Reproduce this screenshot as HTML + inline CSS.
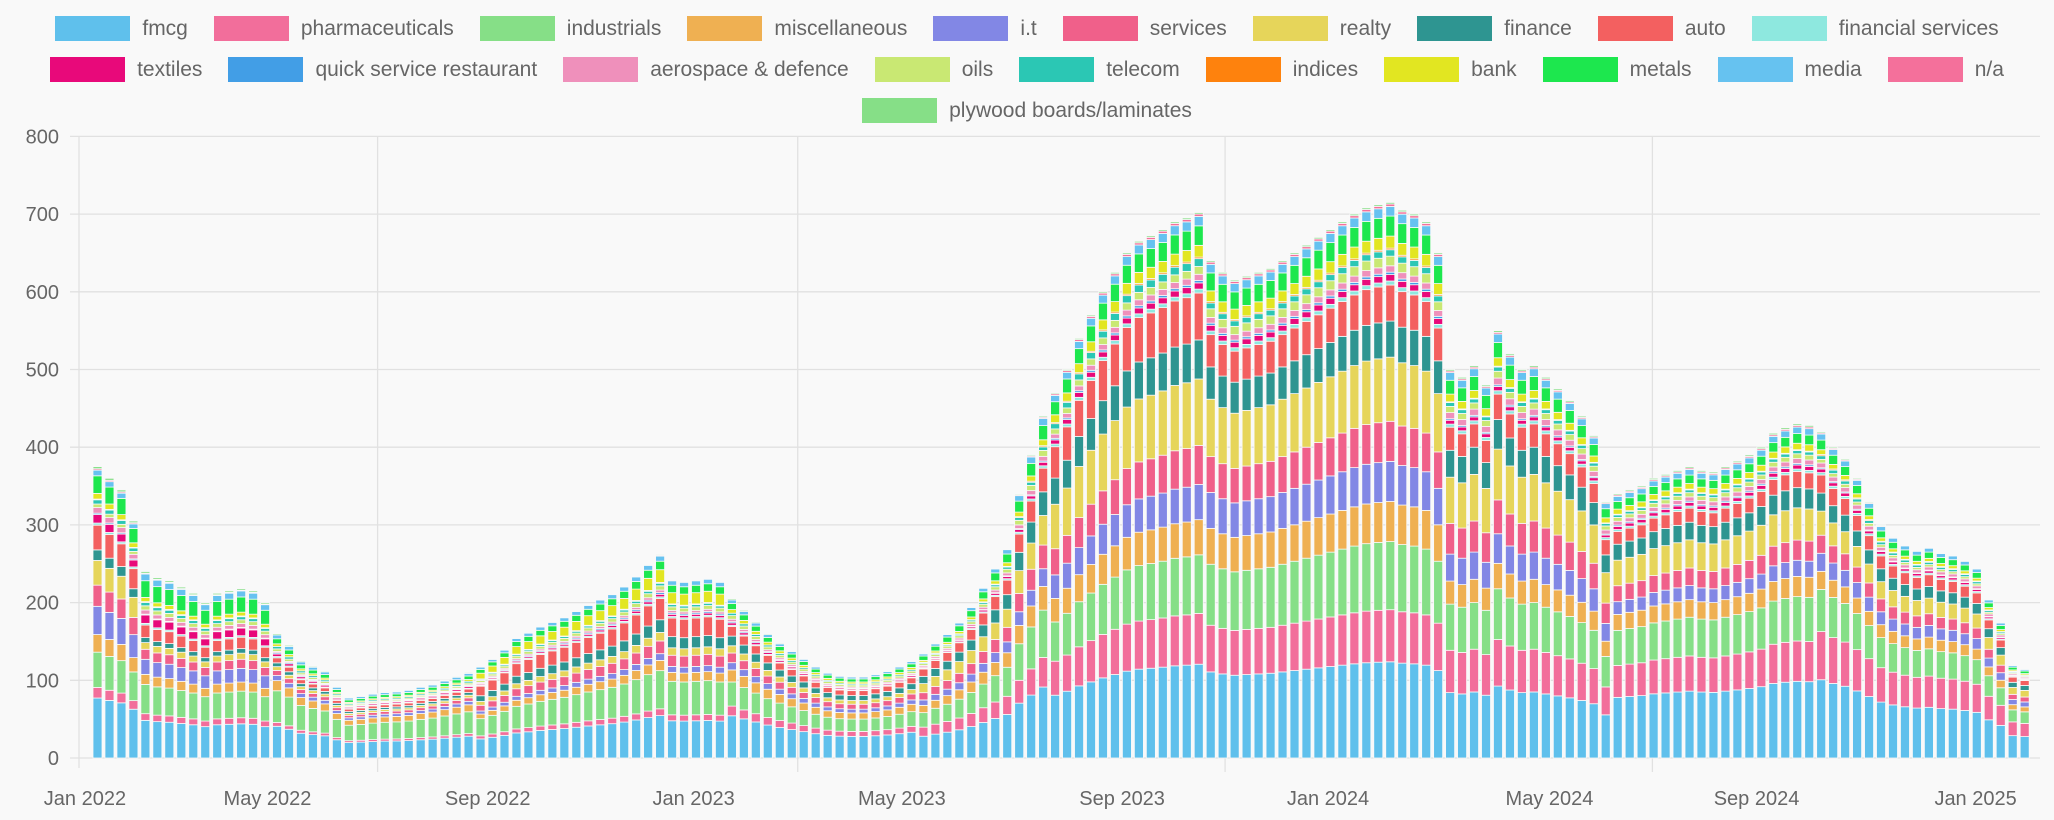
<!DOCTYPE html>
<html><head><meta charset="utf-8">
<style>
html,body{margin:0;padding:0;background:#f9f9f9;}
body{width:2054px;height:820px;overflow:hidden;font-family:"Liberation Sans",sans-serif;}
#legend{position:absolute;left:0;top:8px;width:2054px;}
.row{display:flex;justify-content:center;height:41px;align-items:center;}
.item{display:flex;align-items:center;margin:0 13px;font-size:21px;color:#666;}
.box{width:75px;height:25px;margin-right:12px;box-sizing:border-box;}
svg{position:absolute;left:0;top:0;}
</style></head>
<body>
<div id="legend"></div>
<svg id="chart" width="2054" height="820"></svg>
<script>
const seriesNames=["fmcg","pharmaceuticals","industrials","miscellaneous","i.t","services","realty","finance","auto","financial services","textiles","quick service restaurant","aerospace & defence","oils","telecom","indices","bank","metals","media","n/a","plywood boards/laminates"];
const seriesColors=["#5fc0ec","#f26e9b","#86df87","#efb052","#8287e5","#f0608a","#e6d55a","#2e9591","#f36060","#8ee8df","#e8097a","#429ee6","#ef90bb","#c9e873","#2bc7b4","#fe820d","#e2e621","#1de74e","#66c2f0","#f4709b","#86df87"];
const totals=[375,360,345,305,
240,232,228,220,212,200,212,215,218,215,200,
160,145,125,118,112,92,
78,80,83,85,86,88,92,95,100,105,110,
118,128,140,155,162,170,176,182,190,198,205,212,222,235,250,262,
230,228,230,232,228,
205,190,175,160,148,138,128,118,110,106,
105,105,108,112,118,125,
135,148,160,175,195,220,245,270,340,390,440,
470,500,540,570,600,625,650,665,672,680,690,695,702,
640,625,615,620,625,630,640,650,660,670,680,690,700,708,712,715,705,700,690,650,
500,490,505,480,550,520,500,505,490,475,460,440,415,
330,
340,345,350,360,365,370,375,370,368,375,382,390,400,418,425,430,428,
420,400,385,360,330,300,285,275,268,272,265,262,255,245,
205,175,120,115];
const phaseStarts=[0,4,15,32,53,69,80,93,113,127,144];
const phaseWeights=[
[85,15,50,25,40,30,35,15,35,3,12,2,8,5,6,1,8,25,8,2,3],
[45,8,35,12,18,12,8,6,15,2,10,1,5,5,4,1,5,20,8,1,2],
[25,3,25,8,4,4,3,3,4,1,2,1,1,2,2,0,2,4,3,0,1],
[50,8,45,12,8,15,10,15,25,2,3,2,3,5,3,1,15,10,6,1,1],
[35,8,20,10,6,8,6,8,8,1,2,1,2,3,2,0,3,5,3,0,1],
[60,25,40,20,15,20,25,20,20,2,3,1,4,5,3,1,5,12,6,1,1],
[120,65,75,45,45,50,85,50,60,5,8,3,8,10,10,2,15,25,12,3,2],
[120,65,85,50,50,50,80,45,45,5,8,3,8,12,8,2,15,25,12,3,2],
[85,55,60,30,35,40,60,35,30,4,5,2,8,8,5,1,10,18,10,2,2],
[95,50,55,25,20,25,40,25,20,3,5,2,6,6,4,1,8,12,8,2,2],
[65,40,35,15,15,15,20,15,15,2,3,1,4,3,3,1,4,8,5,1,1]];
const yTicks=[0,100,200,300,400,500,600,700,800];
const xLabels=["Jan 2022","May 2022","Sep 2022","Jan 2023","May 2023","Sep 2023","Jan 2024","May 2024","Sep 2024","Jan 2025"];
const xLabelWeeks=[-1.05,14.2,32.6,49.8,67.2,85.6,102.8,121.3,138.6,156.9];
const gridWeeks=[23.4,58.5,94.2,129.9];

const NS="http://www.w3.org/2000/svg";
const svg=document.getElementById('chart');
const Y0=758,PX=0.777,X0=97.5,DX=11.97,BW=9;
const y=v=>Y0-v*PX;
const x=i=>X0+i*DX;
function mk(t,a){const e=document.createElementNS(NS,t);for(const k in a)e.setAttribute(k,a[k]);svg.appendChild(e);return e;}
yTicks.forEach(t=>{
  const l=mk('line',{x1:70,x2:2040,y1:y(t),y2:y(t),stroke:'#e1e1e1','stroke-width':1.3});
  
  
  const tx=mk('text',{x:59,y:y(t)+7,'text-anchor':'end','font-size':20,fill:'#666','font-family':'Liberation Sans, sans-serif'});
  tx.textContent=t;
  
  
});
const ax=mk('line',{x1:79,x2:79,y1:y(800),y2:Y0+10,stroke:'#e1e1e1','stroke-width':1.3});


gridWeeks.forEach(w=>{
  const g=mk('line',{x1:x(w),x2:x(w),y1:y(800),y2:Y0+14,stroke:'#e1e1e1','stroke-width':1.3});
  
  
});
xLabels.forEach((s,k)=>{
  const tx=mk('text',{x:x(xLabelWeeks[k]),y:805,'text-anchor':'middle','font-size':20,fill:'#666','font-family':'Liberation Sans, sans-serif'});
  tx.textContent=s;
  
  
});
totals.forEach((tot,i)=>{
  let p=0;for(let k=0;k<phaseStarts.length;k++)if(i>=phaseStarts[k])p=k;
  const w=phaseWeights[p];const sum=w.reduce((a,b)=>a+b,0);
  let acc=0;
  w.forEach((wv,s)=>{
    if(!wv)return;
    const v=tot*wv/sum;
    const r=mk('rect',{x:x(i)-BW/2,y:y(acc+v),width:BW,height:Math.max(v*PX,0.5),fill:seriesColors[s],stroke:'#f9f9f9','stroke-width':0.8});
    
    
    acc+=v;
  });
});
const rows=[[0,10],[10,20],[20,21]];
const leg=document.getElementById('legend');
rows.forEach(([a,b])=>{
  const row=document.createElement('div');row.className='row';
  
  
  for(let s=a;s<b;s++){
    const it=document.createElement('div');it.className='item';
    
    
    const bx=document.createElement('span');bx.className='box';bx.style.background=seriesColors[s];
    
    
    it.appendChild(bx);
    const t=document.createElement('span');t.textContent=seriesNames[s];
    it.appendChild(t);row.appendChild(it);
  }
  leg.appendChild(row);
});
</script>
</body></html>
